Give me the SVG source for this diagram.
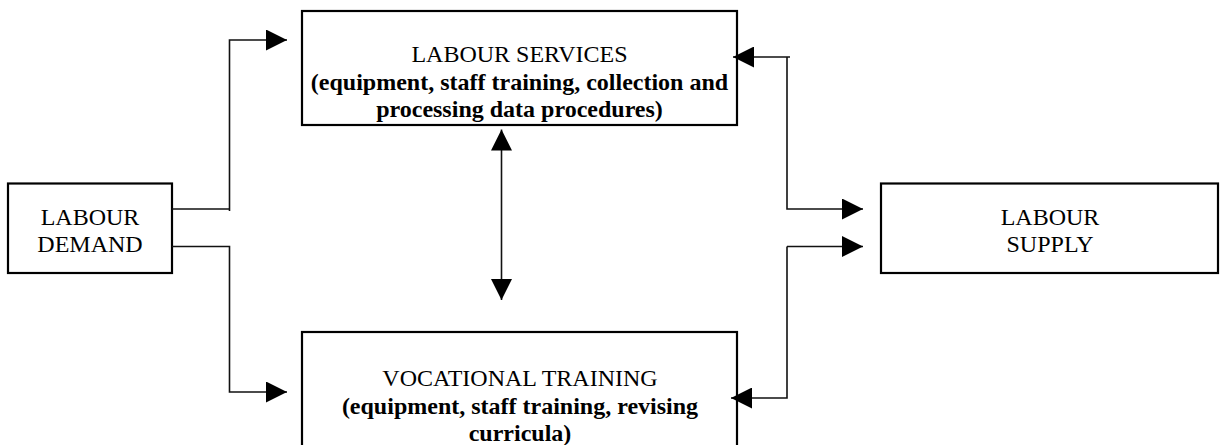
<svg xmlns="http://www.w3.org/2000/svg" width="1220" height="445" viewBox="0 0 1220 445">
  <style>
    .box { fill: #fff; stroke: #000; stroke-width: 2.2; }
    .label { font-family: "Liberation Serif", "Times New Roman", serif; font-size: 24px; fill: #000; text-anchor: middle; }
    .bold { font-weight: bold; }
    .link { fill: none; stroke: #111; stroke-width: 1.6; }
  </style>
  <defs>
    <marker id="arrow" markerUnits="userSpaceOnUse" markerWidth="21" markerHeight="21" viewBox="0 0 21 21" refX="21" refY="10.5" orient="auto-start-reverse">
      <path d="M0,0 L21,10.5 L0,21 z" fill="#000"/>
    </marker>
  </defs>

  <rect width="1220" height="445" fill="#fff"/>

  <g id="labour-services">
    <rect class="box" x="302" y="11" width="435" height="114"/>
    <text class="label" x="519.5" y="62">LABOUR SERVICES</text>
    <text class="label bold" x="519.5" y="89.5">(equipment, staff training, collection and</text>
    <text class="label bold" x="519.5" y="117">processing data procedures)</text>
  </g>

  <g id="labour-demand">
    <rect class="box" x="8" y="183.5" width="164" height="89.5"/>
    <text class="label" x="90" y="224.5">LABOUR</text>
    <text class="label" x="90" y="252">DEMAND</text>
  </g>

  <g id="labour-supply">
    <rect class="box" x="881" y="183.5" width="337" height="89.5"/>
    <text class="label" x="1050" y="224.5">LABOUR</text>
    <text class="label" x="1050" y="252">SUPPLY</text>
  </g>

  <g id="vocational-training">
    <rect class="box" x="302" y="332" width="435" height="130"/>
    <text class="label" x="520" y="386">VOCATIONAL TRAINING</text>
    <text class="label bold" x="520" y="413.5">(equipment, staff training, revising</text>
    <text class="label bold" x="520" y="441">curricula)</text>
  </g>

  <g id="connectors">
    <!-- demand to services and to vocational training -->
    <path class="link" d="M172,209 H229.5"/>
    <path class="link" d="M229.5,211 V40 H287" marker-end="url(#arrow)"/>
    <path class="link" d="M172,246.5 H229.5 V392 H287" marker-end="url(#arrow)"/>
    <!-- services <-> vocational training -->
    <path class="link" d="M501.5,129.5 V300" marker-start="url(#arrow)" marker-end="url(#arrow)"/>
    <!-- services <-> supply -->
    <path class="link" d="M790,57 H733" marker-end="url(#arrow)"/>
    <path class="link" d="M787,57 V209 H863" marker-end="url(#arrow)"/>
    <!-- supply <-> vocational training -->
    <path class="link" d="M787,246.5 H863" marker-end="url(#arrow)"/>
    <path class="link" d="M787,246.5 V398 H731" marker-end="url(#arrow)"/>
  </g>
</svg>
